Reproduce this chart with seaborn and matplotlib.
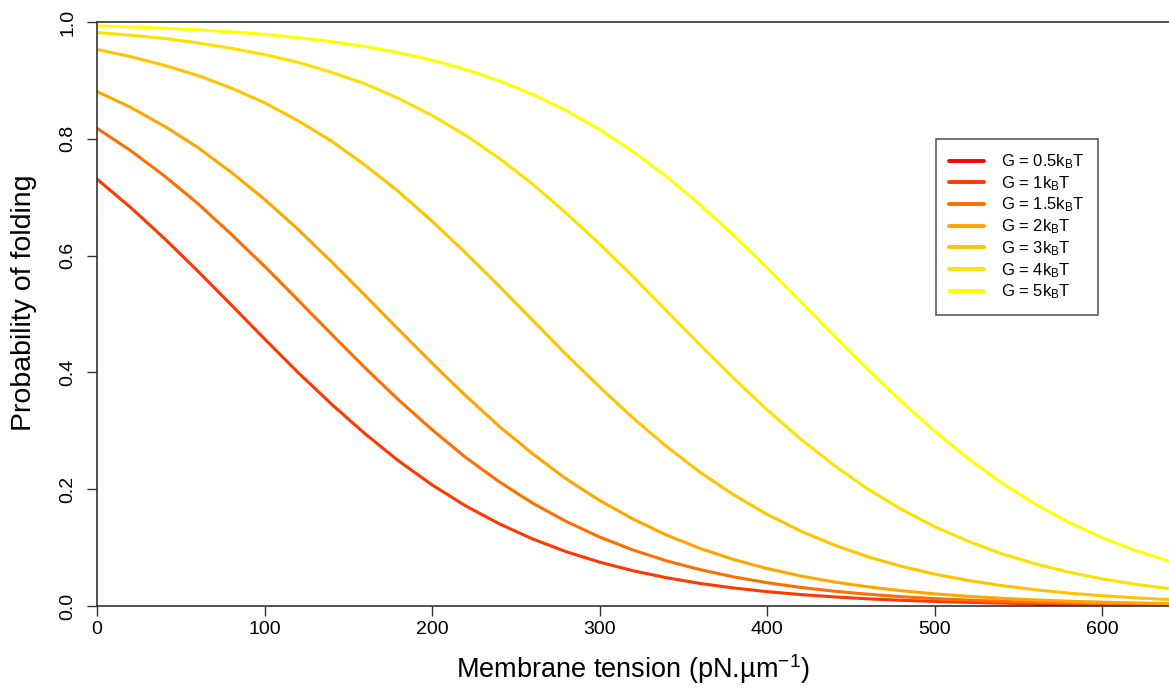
import matplotlib
matplotlib.use("Agg")
import matplotlib.pyplot as plt
import seaborn as sns
import pandas as pd

# ---- data ----
tension = [0, 20, 40, 60, 80, 100, 120, 140, 160, 180, 200, 220, 240, 260, 280, 300, 320,
           340, 360, 380, 400, 420, 440, 460, 480, 500, 520, 540, 560, 580, 600, 620, 640]

g1 = [0.731, 0.6826, 0.630, 0.5740, 0.516, 0.4576, 0.400, 0.3457, 0.295, 0.2486, 0.2075,
      0.1716, 0.141, 0.1149, 0.0931, 0.0752, 0.0604, 0.0484, 0.0387, 0.0309, 0.0246,
      0.0196, 0.0156, 0.0123, 0.0098, 0.0078, 0.0062, 0.0049, 0.0039, 0.0031, 0.0024,
      0.0019, 0.0015]
g15 = [0.818, 0.7800, 0.737, 0.6896, 0.637, 0.5818, 0.524, 0.4656, 0.408, 0.3530, 0.302,
       0.2546, 0.213, 0.1762, 0.145, 0.1182, 0.0959, 0.0774, 0.0623, 0.0499, 0.0399,
       0.0319, 0.0254, 0.0202, 0.0160, 0.0127, 0.0101, 0.0080, 0.0064, 0.0050, 0.0040,
       0.0032, 0.0025]
g2 = [0.881, 0.8540, 0.822, 0.7855, 0.743, 0.6964, 0.645, 0.5895, 0.532, 0.4735, 0.416,
      0.3603, 0.308, 0.2608, 0.218, 0.1809, 0.149, 0.1215, 0.0987, 0.0797, 0.0642,
      0.0515, 0.0412, 0.0329, 0.0262, 0.0208, 0.0166, 0.0132, 0.0104, 0.0083, 0.0066,
      0.0052, 0.0041]
g3 = [0.953, 0.9408, 0.926, 0.9087, 0.887, 0.8618, 0.831, 0.7961, 0.755, 0.7097, 0.659,
      0.6049, 0.548, 0.4895, 0.431, 0.3752, 0.322, 0.2733, 0.229, 0.1906, 0.157,
      0.1285, 0.1045, 0.0845, 0.0681, 0.0547, 0.0438, 0.0350, 0.0279, 0.0222, 0.0176,
      0.0140, 0.0111]
g4 = [0.982, 0.9774, 0.972, 0.9643, 0.955, 0.9443, 0.931, 0.9139, 0.894, 0.8692, 0.840,
      0.8062, 0.767, 0.7227, 0.673, 0.6201, 0.564, 0.5055, 0.447, 0.3903, 0.336,
      0.2862, 0.241, 0.2007, 0.166, 0.1359, 0.111, 0.0896, 0.0723, 0.0581, 0.0465,
      0.0372, 0.0297]
g5 = [0.9933, 0.9916, 0.9894, 0.9866, 0.9831, 0.9788, 0.9733, 0.9665, 0.9580, 0.9476,
      0.9346, 0.9188, 0.8995, 0.8763, 0.8486, 0.8161, 0.7783, 0.7354, 0.6874, 0.6350,
      0.5793, 0.5215, 0.4630, 0.4057, 0.3507, 0.2995, 0.2528, 0.2111, 0.1748, 0.1436,
      0.1171, 0.0950, 0.0767]
# red curve only visible as a short segment near zero
g05_tension = [560, 615]
g05 = [0.0020, 0.0015]

labels = [r"G = 0.5k$_\mathregular{B}$T", r"G = 1k$_\mathregular{B}$T",
          r"G = 1.5k$_\mathregular{B}$T", r"G = 2k$_\mathregular{B}$T",
          r"G = 3k$_\mathregular{B}$T", r"G = 4k$_\mathregular{B}$T",
          r"G = 5k$_\mathregular{B}$T"]
colors = ["#FF0000", "#FF3700", "#FF6E00", "#FFA500", "#FFC300", "#FFE100", "#FFFF00"]

series = [(g05_tension, g05), (tension, g1), (tension, g15), (tension, g2),
          (tension, g3), (tension, g4), (tension, g5)]

rows = []
for lab, (xs, ys) in zip(labels, series):
    for x, y in zip(xs, ys):
        rows.append({"tension": x, "prob": y, "G": lab})
df = pd.DataFrame(rows)

sns.set_style("ticks")
plt.rcParams["font.family"] = ["Liberation Sans", "DejaVu Sans"]
plt.rcParams["mathtext.fontset"] = "custom"
plt.rcParams["mathtext.rm"] = "Liberation Sans"
plt.rcParams["mathtext.it"] = "Liberation Sans:italic"
plt.rcParams["text.color"] = "black"
plt.rcParams["axes.labelcolor"] = "black"
plt.rcParams["xtick.color"] = "black"
plt.rcParams["ytick.color"] = "black"

fig = plt.figure(figsize=(11.69, 6.93), dpi=100)
ax = fig.add_axes([97 / 1169, 1 - 606 / 693, 1072 / 1169, 584 / 693])

sns.lineplot(data=df, x="tension", y="prob", hue="G", hue_order=labels,
             palette=dict(zip(labels, colors)), linewidth=2.2, ax=ax,
             sort=True, estimator=None)

ax.set_xlim(0, 640)
ax.set_ylim(0, 1)
ax.set_xticks([0, 100, 200, 300, 400, 500, 600])
ax.set_yticks([0.0, 0.2, 0.4, 0.6, 0.8, 1.0])
ax.set_yticklabels(["0.0", "0.2", "0.4", "0.6", "0.8", "1.0"])
ax.tick_params(axis="both", direction="out", length=7, width=1, color="#333333",
               labelsize=14, pad=4)
ax.tick_params(axis="y", labelrotation=90, pad=8)
for lab in ax.get_yticklabels():
    lab.set_va("center")

for side in ["left", "bottom", "top"]:
    ax.spines[side].set_color("#333333")
    ax.spines[side].set_linewidth(1.2)
ax.spines["right"].set_visible(False)

ax.set_xlabel(r"Membrane tension (pN.µm$^{-1}$)", fontsize=19.5, labelpad=10)
ax.set_ylabel("Probability of folding", fontsize=20.5)
ax.yaxis.set_label_coords(-0.056, 0.52)

leg = ax.legend(loc="upper left", bbox_to_anchor=((936 - 97) / 1072, (606 - 139) / 584),
                borderaxespad=0, fontsize=12, frameon=True, fancybox=False,
                handlelength=2.1, handletextpad=1.0, labelspacing=0.18,
                borderpad=0.8, title=None)
leg.get_frame().set_edgecolor("#333333")
leg.get_frame().set_linewidth(1.2)
for h in leg.get_lines():
    h.set_linewidth(2.8)

fig.savefig("out.png", dpi=100)
